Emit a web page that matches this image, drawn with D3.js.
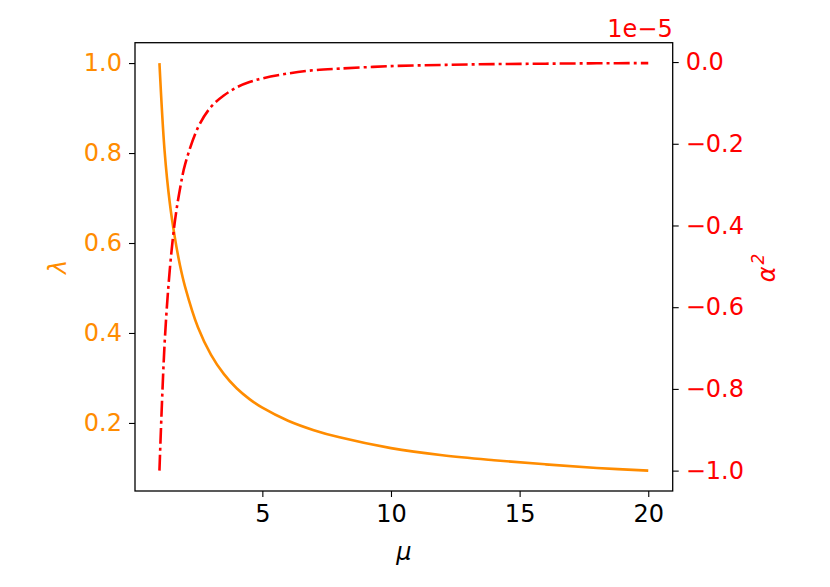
<!DOCTYPE html>
<html>
<head>
<meta charset="utf-8">
<script src="https://cdn.jsdelivr.net/npm/d3@7"></script>
<style>
  html, body { margin: 0; padding: 0; background: #fff; }
  svg text { font-family: "DejaVu Sans", sans-serif; }
</style>
</head>
<body>
<div id="chart"></div>
<script>
// values
const mu = [1, 1.2, 1.4, 1.6, 1.8, 2, 2.5, 3, 3.5, 4, 4.5, 5, 6, 7, 8, 10, 12, 14, 16, 18, 20];
const lambdaVals = [1.0, 0.805, 0.690, 0.612, 0.550, 0.502, 0.412, 0.352, 0.309, 0.277, 0.253, 0.234, 0.205, 0.184, 0.168, 0.144, 0.128, 0.117, 0.108, 0.100, 0.094];
const alphaSq = [-1.0, -0.69, -0.51, -0.39, -0.31, -0.25, -0.16, -0.11, -0.082, -0.062, -0.049, -0.04, -0.028, -0.02, -0.016, -0.01, -0.007, -0.005, -0.004, -0.003, -0.0025]; // x 1e-5
const xTicks = [5, 10, 15, 20];
const leftTicks = [0.2, 0.4, 0.6, 0.8, 1.0];
const rightTicks = [-1.0, -0.8, -0.6, -0.4, -0.2, 0.0];

const W = 830, H = 587;
const box = { left: 135, right: 672.7, top: 42.7, bottom: 491 };
const orange = '#ff8c00', red = '#ff0000';
const fontSize = 24;

// matplotlib-like 5% padding around the data
function padded(vals) {
    const [lo, hi] = d3.extent(vals);
    const p = (hi - lo) * 0.05;
    return [lo - p, hi + p];
}

const svg = d3.select('#chart').append('svg')
    .attr('width', W)
    .attr('height', H);

svg.append('rect').attr('width', W).attr('height', H).attr('fill', '#fff');

const x = d3.scaleLinear().domain(padded(mu)).range([box.left, box.right]);
const yL = d3.scaleLinear().domain(padded(lambdaVals)).range([box.bottom, box.top]);
const yR = d3.scaleLinear().domain(padded(alphaSq)).range([box.bottom, box.top]);

const data = mu.map((m, i) => ({ mu: m, lam: lambdaVals[i], a: alphaSq[i] }));

// lines
svg.append('path')
    .datum(data)
    .attr('fill', 'none')
    .attr('stroke', orange)
    .attr('stroke-width', 2.6)
    .attr('d', d3.line().x(d => x(d.mu)).y(d => yL(d.lam)).curve(d3.curveCatmullRom.alpha(0.5)));

svg.append('path')
    .datum(data)
    .attr('fill', 'none')
    .attr('stroke', red)
    .attr('stroke-width', 2.6)
    .attr('stroke-dasharray', '16,4,3,4')
    .attr('d', d3.line().x(d => x(d.mu)).y(d => yR(d.a)).curve(d3.curveCatmullRom.alpha(0.5)));

const minus = s => s.replace('-', '\u2212');

function styleAxis(g, color) {
    g.select('.domain').remove();
    g.selectAll('.tick line').attr('stroke', '#000').attr('stroke-width', 1.1);
    g.selectAll('.tick text')
        .attr('fill', color)
        .style('font-size', fontSize + 'px')
        .style('font-family', '"DejaVu Sans", sans-serif');
}

svg.append('g')
    .attr('transform', `translate(0,${box.bottom})`)
    .call(d3.axisBottom(x).tickValues(xTicks).tickSize(6).tickPadding(8).tickFormat(d3.format('d')))
    .call(g => styleAxis(g, '#000'));

svg.append('g')
    .attr('transform', `translate(${box.left},0)`)
    .call(d3.axisLeft(yL).tickValues(leftTicks).tickSize(6).tickPadding(7).tickFormat(d3.format('.1f')))
    .call(g => styleAxis(g, orange));

svg.append('g')
    .attr('transform', `translate(${box.right},0)`)
    .call(d3.axisRight(yR).tickValues(rightTicks).tickSize(6).tickPadding(7).tickFormat(d => minus(d3.format('.1f')(d))))
    .call(g => styleAxis(g, red));

// frame
svg.append('rect')
    .attr('x', box.left)
    .attr('y', box.top)
    .attr('width', box.right - box.left)
    .attr('height', box.bottom - box.top)
    .attr('fill', 'none')
    .attr('stroke', '#000')
    .attr('stroke-width', 1.3);

// offset text
svg.append('text')
    .attr('x', box.right)
    .attr('y', 36.5)
    .attr('text-anchor', 'end')
    .attr('fill', red)
    .style('font-size', fontSize + 'px')
    .text('1e\u22125');

// axis labels
svg.append('text')
    .attr('x', (box.left + box.right) / 2)
    .attr('y', 560)
    .attr('text-anchor', 'middle')
    .style('font-size', fontSize + 'px')
    .style('font-style', 'italic')
    .text('\u03bc');

svg.append('text')
    .attr('transform', 'translate(66,267) rotate(-90)')
    .attr('text-anchor', 'middle')
    .attr('fill', orange)
    .style('font-size', fontSize + 'px')
    .style('font-style', 'italic')
    .text('\u03bb');

const aLab = svg.append('text')
    .attr('transform', 'translate(775,268) rotate(-90)')
    .attr('text-anchor', 'middle')
    .attr('fill', red)
    .style('font-size', fontSize + 'px')
    .style('font-style', 'italic');
aLab.append('tspan').text('\u03b1');
aLab.append('tspan').attr('dx', 2).attr('dy', -11).style('font-size', '17px').text('2');
</script>
</body>
</html>
